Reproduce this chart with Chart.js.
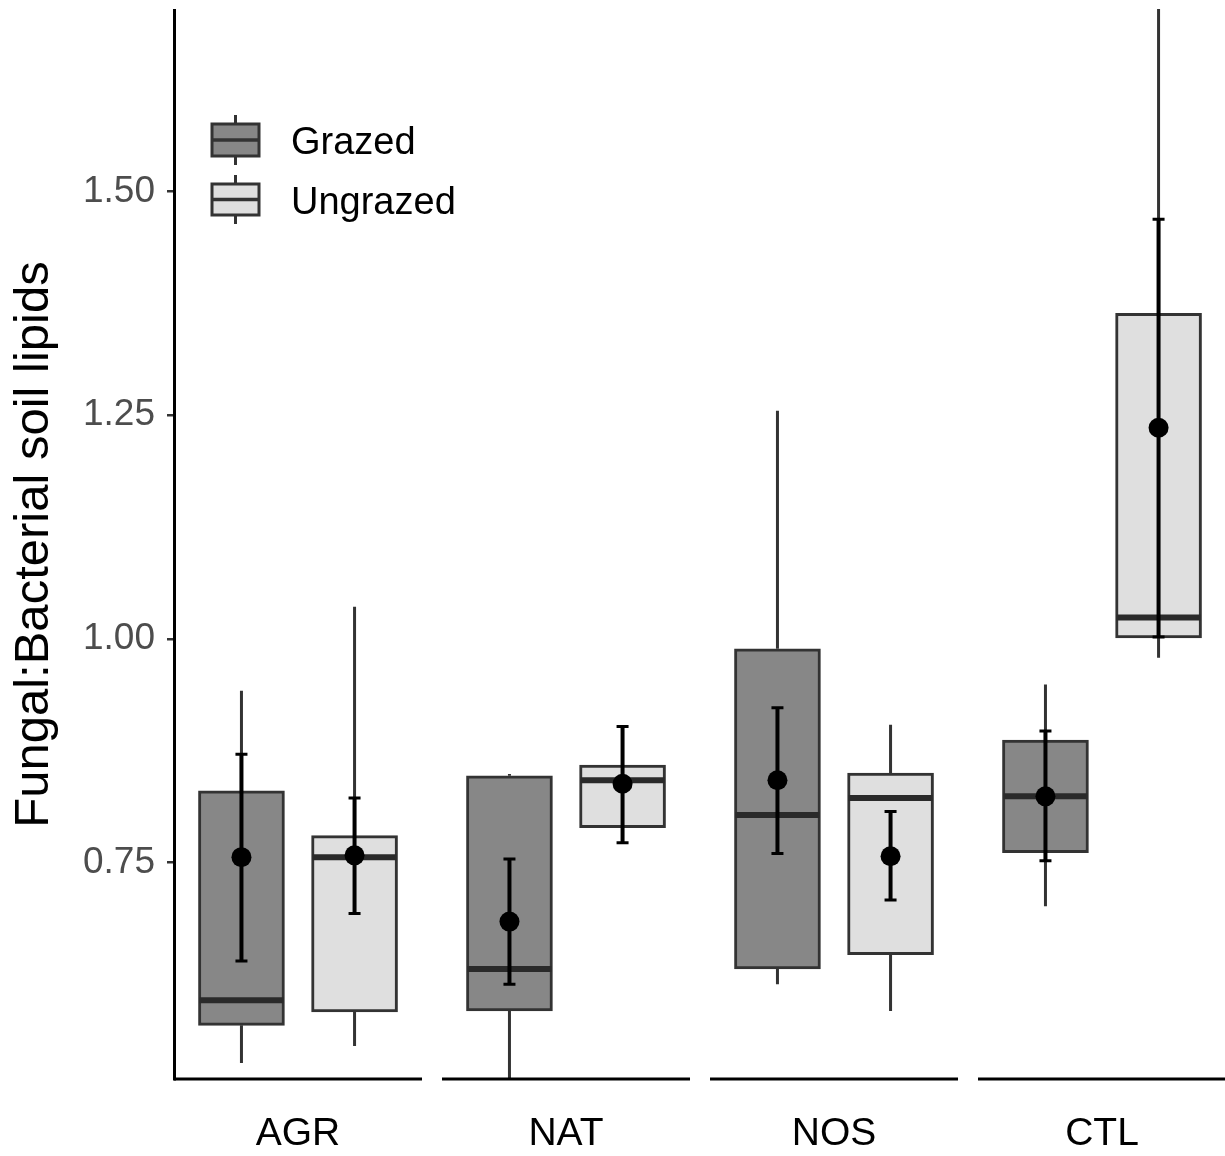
<!DOCTYPE html>
<html><head><meta charset="utf-8">
<script src="https://cdn.jsdelivr.net/npm/chart.js@4.4.1/dist/chart.umd.min.js"></script>
<style>html,body{margin:0;padding:0;background:#fff;overflow:hidden;} #wrap{width:1225px;height:1156px;position:relative;}</style>
</head><body><div id="wrap"><canvas id="c" width="1225" height="1156"></canvas></div>
<script>
// ---- data ----
const categories = ['AGR', 'NAT', 'NOS', 'CTL'];
const seriesNames = ['Grazed', 'Ungrazed'];
const yTickValues = [0.75, 1.00, 1.25, 1.50];
const yTitle = 'Fungal:Bacterial soil lipids';

const grazedMin    = [0.526, 0.500, 0.614, 0.701];
const grazedQ1     = [0.568, 0.584, 0.631, 0.761];
const grazedMedian = [0.596, 0.631, 0.803, 0.824];
const grazedQ3     = [0.830, 0.847, 0.989, 0.887];
const grazedMax    = [0.942, 0.849, 1.255, 0.949];
const grazedMean   = [0.756, 0.684, 0.842, 0.824];
const grazedLow    = [0.640, 0.614, 0.760, 0.752];
const grazedHigh   = [0.871, 0.754, 0.923, 0.897];

const ungrazedMin    = [0.545, 0.789, 0.584, 0.979];
const ungrazedQ1     = [0.583, 0.789, 0.647, 1.001];
const ungrazedMedian = [0.756, 0.842, 0.822, 1.024];
const ungrazedQ3     = [0.780, 0.859, 0.850, 1.364];
const ungrazedMax    = [1.036, 0.859, 0.904, 1.720];
const ungrazedMean   = [0.758, 0.838, 0.757, 1.236];
const ungrazedLow    = [0.693, 0.772, 0.708, 1.002];
const ungrazedHigh   = [0.822, 0.902, 0.807, 1.469];

// ---- styling / layout ----
const GRAZED_FILL = '#878787';
const UNGRAZED_FILL = '#dfdfdf';
const OUTLINE = '#333333';
const FONT = '"Liberation Sans", Arial, Helvetica, sans-serif';
const X_MIN = -0.4627, X_MAX = 3.4216, DODGE = 0.211, PANEL_HALF = 0.4627;
const Y_MIN = 0.508, Y_MAX = 1.703;
const BOX_PX = 86;

const groups = [
  {name: seriesNames[0], fill: GRAZED_FILL, off: -DODGE, min: grazedMin, q1: grazedQ1, med: grazedMedian, q3: grazedQ3, max: grazedMax, mean: grazedMean, lo: grazedLow, hi: grazedHigh},
  {name: seriesNames[1], fill: UNGRAZED_FILL, off: DODGE, min: ungrazedMin, q1: ungrazedQ1, med: ungrazedMedian, q3: ungrazedQ3, max: ungrazedMax, mean: ungrazedMean, lo: ungrazedLow, hi: ungrazedHigh}
];

const datasets = [];
groups.forEach((g, gi) => {
  datasets.push({
    type: 'bar', label: g.name, order: 3 - gi,
    data: categories.map((c, i) => ({x: i + g.off, y: [g.q1[i], g.q3[i]]})),
    backgroundColor: g.fill, borderColor: OUTLINE, borderWidth: 3, borderSkipped: false,
    barThickness: BOX_PX, grouped: false
  });
});
datasets.push({
  type: 'line', label: 'mean', order: 1, showLine: false,
  data: groups.flatMap(g => categories.map((c, i) => ({x: i + g.off, y: g.mean[i]}))),
  pointRadius: 10, pointHoverRadius: 10, pointBackgroundColor: '#000', pointBorderWidth: 0, borderWidth: 0
});

let barsDrawn = 0;
const boxExtras = {
  id: 'boxExtras',
  beforeDatasetsDraw() { barsDrawn = 0; },
  afterDatasetDraw(chart, args) {
    if (args.meta.type !== 'bar') return;
    barsDrawn++;
    if (barsDrawn !== 2) return;
    const xs = chart.scales.x, ys = chart.scales.y, ctx = chart.ctx, a = chart.chartArea;
    ctx.save();
    ctx.beginPath(); ctx.rect(a.left, a.top - 1, a.right - a.left, a.bottom - a.top + 1); ctx.clip();
    groups.forEach(g => {
      categories.forEach((c, i) => {
        const cx = xs.getPixelForValue(i + g.off);
        // whiskers
        ctx.strokeStyle = OUTLINE; ctx.lineWidth = 3; ctx.lineCap = 'butt';
        ctx.beginPath();
        ctx.moveTo(cx, ys.getPixelForValue(g.q3[i])); ctx.lineTo(cx, ys.getPixelForValue(g.max[i]));
        ctx.moveTo(cx, ys.getPixelForValue(g.q1[i])); ctx.lineTo(cx, ys.getPixelForValue(g.min[i]));
        ctx.stroke();
        // median
        const my = ys.getPixelForValue(g.med[i]);
        ctx.lineWidth = 6; ctx.strokeStyle = '#2a2a2a';
        ctx.beginPath(); ctx.moveTo(cx - BOX_PX / 2 + 1, my); ctx.lineTo(cx + BOX_PX / 2 - 1, my); ctx.stroke();
        // mean +/- error bar
        const ylo = ys.getPixelForValue(g.lo[i]), yhi = ys.getPixelForValue(g.hi[i]);
        ctx.strokeStyle = '#000'; ctx.lineWidth = 4;
        ctx.beginPath(); ctx.moveTo(cx, ylo); ctx.lineTo(cx, yhi); ctx.stroke();
        ctx.lineWidth = 3;
        ctx.beginPath();
        ctx.moveTo(cx - 6, ylo); ctx.lineTo(cx + 6, ylo);
        ctx.moveTo(cx - 6, yhi); ctx.lineTo(cx + 6, yhi);
        ctx.stroke();
      });
    });
    ctx.restore();
  },
  afterDraw(chart) {
    const xs = chart.scales.x, ctx = chart.ctx, a = chart.chartArea;
    ctx.save();
    // per-panel x axis lines
    ctx.strokeStyle = '#000'; ctx.lineWidth = 3;
    categories.forEach((c, i) => {
      const x0 = Math.max(a.left - 1.5, xs.getPixelForValue(i - PANEL_HALF));
      const x1 = Math.min(chart.width, xs.getPixelForValue(i + PANEL_HALF));
      ctx.beginPath(); ctx.moveTo(x0, a.bottom); ctx.lineTo(x1, a.bottom); ctx.stroke();
    });
    // legend
    const keyL = 212, keyW = 47, keyCx = 235.5, textX = 291;
    const rows = [{top: 124, bot: 156, cy: 144}, {top: 184, bot: 215, cy: 204}];
    groups.forEach((g, gi) => {
      const r = rows[gi];
      ctx.strokeStyle = OUTLINE; ctx.lineWidth = 3;
      ctx.beginPath();
      ctx.moveTo(keyCx, r.top - 9); ctx.lineTo(keyCx, r.top);
      ctx.moveTo(keyCx, r.bot); ctx.lineTo(keyCx, r.bot + 9);
      ctx.stroke();
      ctx.fillStyle = g.fill; ctx.fillRect(keyL, r.top, keyW, r.bot - r.top);
      ctx.strokeRect(keyL, r.top, keyW, r.bot - r.top);
      ctx.lineWidth = 3.5;
      ctx.beginPath(); ctx.moveTo(keyL, (r.top + r.bot) / 2); ctx.lineTo(keyL + keyW, (r.top + r.bot) / 2); ctx.stroke();
      ctx.fillStyle = '#000'; ctx.font = '38px ' + FONT; ctx.textBaseline = 'middle'; ctx.textAlign = 'left';
      ctx.fillText(g.name, textX, r.cy);
    });
    ctx.restore();
  }
};

new Chart(document.getElementById('c'), {
  type: 'bar',
  data: {datasets},
  plugins: [boxExtras],
  options: {
    responsive: false, animation: false, devicePixelRatio: 1,
    layout: {padding: {top: 6, right: 0, bottom: 0, left: 0}},
    plugins: {legend: {display: false}, tooltip: {enabled: false}},
    scales: {
      x: {
        type: 'linear', min: X_MIN, max: X_MAX, offset: false,
        grid: {display: false}, border: {display: false},
        afterBuildTicks: s => { s.ticks = categories.map((c, i) => ({value: i})); },
        ticks: {autoSkip: false, maxRotation: 0, padding: 24, color: '#000',
                font: {family: FONT, size: 39}, callback: v => categories[v]},
        afterFit: s => { s.height = 77; s.paddingLeft = 0; s.paddingRight = 0; }
      },
      y: {
        type: 'linear', min: Y_MIN, max: Y_MAX,
        grid: {display: true, drawOnChartArea: false, drawTicks: true, tickLength: 7, color: '#333', lineWidth: 2.5},
        border: {display: true, color: '#000', width: 3},
        afterBuildTicks: s => { s.ticks = yTickValues.map(v => ({value: v})); },
        ticks: {padding: 12, color: '#4d4d4d', font: {family: FONT, size: 37}, callback: v => v.toFixed(2)},
        title: {display: true, text: yTitle, color: '#000', font: {family: FONT, size: 49}, padding: {top: 5, bottom: 0}},
        afterFit: s => { s.width = 174; s.paddingTop = 0; s.paddingBottom = 0; }
      }
    }
  }
});
</script>
</body></html>
